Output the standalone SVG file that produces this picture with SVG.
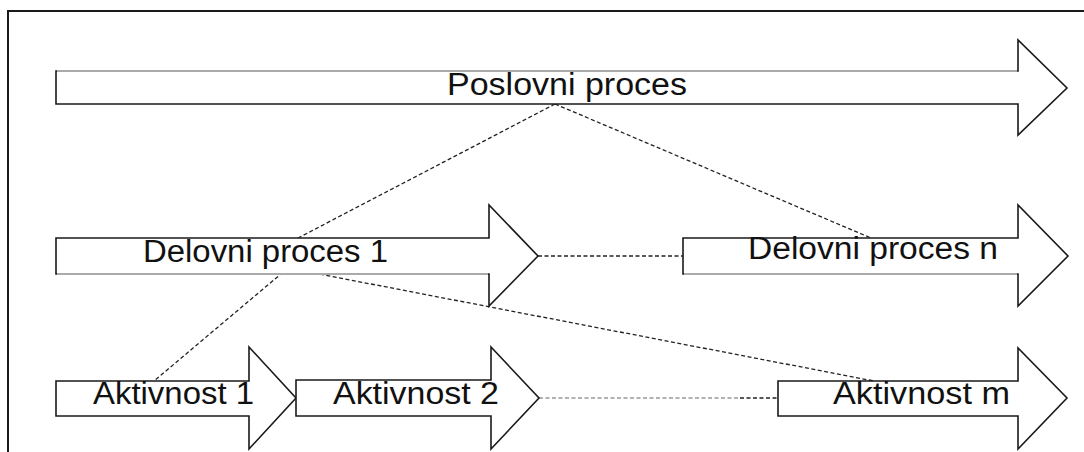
<svg xmlns="http://www.w3.org/2000/svg" width="1084" height="452" viewBox="0 0 1084 452">
  <style>
    .frame { fill: none; stroke: #1a1a1a; stroke-width: 2; }
    .arrow { fill: #fff; stroke: #1a1a1a; stroke-width: 1.6; stroke-linejoin: miter; }
    .soft { stroke: #aaaaaa; stroke-width: 2; fill: none; }
    .link { fill: none; stroke: #222; stroke-width: 1.3; stroke-dasharray: 4 2.5; }
    .link-grey { fill: none; stroke: #999; stroke-width: 1.5; stroke-dasharray: 4 2.5; }
    .label { font-family: "Liberation Sans", Arial, sans-serif; font-size: 31px; fill: #111; }
  </style>

  <!-- outer frame (open to the right and bottom) -->
  <path class="frame" d="M8,452 V11 H1084"/>

  <!-- connectors -->
  <g id="connectors">
    <line class="link" x1="555" y1="104" x2="298" y2="238"/>
    <line class="link" x1="555" y1="104" x2="871" y2="238"/>
    <line class="link" x1="288" y1="268" x2="154" y2="381"/>
    <line class="link" x1="288" y1="268" x2="874" y2="381"/>
    <line class="link" x1="538" y1="256" x2="683" y2="256"/>
    <line class="link-grey" x1="539" y1="398" x2="740" y2="398"/>
    <line class="link" x1="740" y1="398" x2="778" y2="398"/>
  </g>

  <!-- top-level process -->
  <g id="poslovni-proces">
    <polygon class="arrow" points="56,71 1018,71 1018,40 1067,88 1018,135 1018,104 56,104"/>
    <line class="soft" x1="57" y1="71" x2="1017" y2="71"/>
    <text class="label" x="447" y="95" textLength="240" lengthAdjust="spacingAndGlyphs">Poslovni proces</text>
  </g>

  <!-- sub-processes -->
  <g id="delovni-proces-1">
    <polygon class="arrow" points="56,238 489,238 489,205 538,256 489,306 489,274 56,274"/>
    <line class="soft" x1="57" y1="274" x2="488" y2="274"/>
    <text class="label" x="143" y="262" textLength="245" lengthAdjust="spacingAndGlyphs">Delovni proces 1</text>
  </g>

  <g id="delovni-proces-n">
    <polygon class="arrow" points="683,238 1018,238 1018,205 1068,256 1018,306 1018,274 683,274"/>
    <line class="soft" x1="684" y1="274" x2="1017" y2="274"/>
    <text class="label" x="748" y="259" textLength="250" lengthAdjust="spacingAndGlyphs">Delovni proces n</text>
  </g>

  <!-- activities -->
  <g id="aktivnost-1">
    <polygon class="arrow" points="56,381 249,381 249,347 296,398 249,449 249,416 56,416"/>
    <text class="label" x="93" y="404" textLength="161" lengthAdjust="spacingAndGlyphs">Aktivnost 1</text>
  </g>

  <g id="aktivnost-2">
    <polygon class="arrow" points="296,380 491,380 491,347 539,398 491,449 491,416 296,416"/>
    <text class="label" x="333" y="404" textLength="166" lengthAdjust="spacingAndGlyphs">Aktivnost 2</text>
  </g>

  <g id="aktivnost-m">
    <polygon class="arrow" points="778,381 1018,381 1018,348 1067,398 1018,449 1018,416 778,416"/>
    <text class="label" x="833" y="404" textLength="177" lengthAdjust="spacingAndGlyphs">Aktivnost m</text>
  </g>
</svg>
